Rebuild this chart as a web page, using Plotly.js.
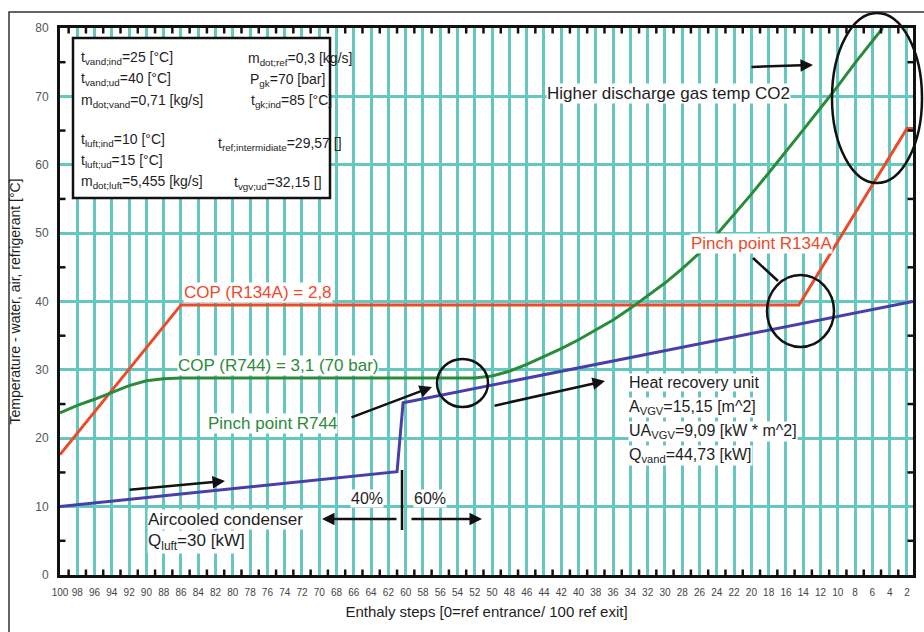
<!DOCTYPE html>
<html><head><meta charset="utf-8">
<script src="https://cdn.plot.ly/plotly-3.0.1.min.js"></script>
<style>html,body{margin:0;padding:0;background:#fff}#chart{width:924px;height:632px}</style>
</head><body><div id="chart"></div>
<script>
// ---- data ----
const xTickVals = [100,98,96,94,92,90,88,86,84,82,80,78,76,74,72,70,68,66,64,62,60,58,56,54,52,50,48,46,44,42,40,38,36,34,32,30,28,26,24,22,20,18,16,14,12,10,8,6,4,2];
const xMarkVals = [99,97,95,93,91,89,87,85,83,81,79,77,75,73,71,69,67,65,63,61,59,57,55,53,51,49,47,45,43,41,39,37,35,33,31,29,27,25,23,21,19,17,15,13,11,9,7,5,3];
const yTickVals = [0,10,20,30,40,50,60,70,80];
const yMarkVals = [5,15,25,35,45,55,65,75];

const r134aX = [100, 86, 14.5, 2, 1.3];
const r134aY = [17.6, 39.5, 39.5, 65.3, 65.3];

const r744X = [100, 98, 96, 94, 92, 90, 88, 86, 52, 50, 48, 46, 44, 42, 40, 38, 36, 34, 32, 30, 28, 26, 24, 22, 20, 18, 16, 14, 12, 10, 8, 6, 4.8];
const r744Y = [23.7, 24.8, 25.7, 26.7, 27.7, 28.4, 28.7, 28.8, 28.8, 29.1, 29.8, 30.8, 31.9, 33.1, 34.4, 35.8, 37.3, 39.0, 40.8, 42.7, 44.8, 47.1, 49.8, 52.7, 55.7, 58.8, 61.9, 65.1, 68.3, 71.5, 74.9, 78.1, 80];

const sinkX = [100, 61, 60.3, 1.3];
const sinkY = [10, 15.1, 25.2, 40];

// ---- layout helpers (pixel -> paper) ----
const L = 60, T = 28, W = 853, H = 547;
const px = v => (v - L) / W;
const py = v => (T + H - v) / H;

const TEAL = 'rgb(100,200,190)';
const RED = '#ec4a2a';
const GREEN = '#2b8b3b';
const BLUE = '#4a3eab';
const FONT = 'Liberation Sans, Arial, sans-serif';
const INK = '#1e1e1e';
const X_RANGE = [100, 1.3];
const Y_RANGE = [0, 80];

const traces = [
  {x: r134aX, y: r134aY, mode: 'lines', line: {color: RED, width: 3}, name: 'R134A'},
  {x: r744X, y: r744Y, mode: 'lines', line: {color: GREEN, width: 3}, name: 'R744'},
  {x: sinkX, y: sinkY, mode: 'lines', line: {color: BLUE, width: 3}, name: 'water/air'}
];

function txt(text, x, y, color, size, anchor, bg) {
  return {text: text, xref: 'paper', yref: 'paper', x: px(x), y: py(y), showarrow: false,
    xanchor: anchor || 'left', yanchor: 'middle', font: {family: FONT, size: size || 17, color: color || INK},
    bgcolor: bg === false ? 'rgba(0,0,0,0)' : '#fff', borderpad: 0};
}
function arrow(tx, ty, hx, hy) {
  return {text: '', xref: 'paper', yref: 'paper', x: px(hx), y: py(hy), ax: tx - hx, ay: ty - hy,
    showarrow: true, arrowhead: 2, arrowsize: 1, arrowwidth: 2.5, arrowcolor: '#111', standoff: 0, startstandoff: 0};
}

const boxFont = 14;
const annotations = [
  txt('t<sub>vand;ind</sub>=25 [°C]', 80, 58, INK, boxFont, 'left', false),
  txt('t<sub>vand;ud</sub>=40 [°C]', 80, 79, INK, boxFont, 'left', false),
  txt('m<sub>dot;vand</sub>=0,71 [kg/s]', 80, 101, INK, boxFont, 'left', false),
  txt('t<sub>luft;ind</sub>=10 [°C]', 80, 140, INK, boxFont, 'left', false),
  txt('t<sub>luft;ud</sub>=15 [°C]', 80, 161, INK, boxFont, 'left', false),
  txt('m<sub>dot;luft</sub>=5,455 [kg/s]', 80, 182, INK, boxFont, 'left', false),
  txt('m<sub>dot;ref</sub>=0,3 [kg/s]', 247, 59, INK, boxFont, 'left', false),
  txt('P<sub>gk</sub>=70 [bar]', 249, 80, INK, boxFont, 'left', false),
  txt('t<sub>gk;ind</sub>=85 [°C]', 250, 101, INK, boxFont, 'left', false),
  txt('t<sub>ref;intermidiate</sub>=29,57 []', 217, 144, INK, boxFont, 'left', false),
  txt('t<sub>vgv;ud</sub>=32,15 []', 233, 183, INK, boxFont, 'left', false),

  txt('Higher discharge gas temp CO2', 668, 94, INK, 17, 'center'),
  txt('Pinch point R134A', 761, 243, RED, 17, 'center'),
  txt('COP (R134A) = 2,8', 258, 292, RED, 17, 'center'),
  txt('COP (R744) = 3,1 (70 bar)', 278, 366, GREEN, 17, 'center'),
  txt('Pinch point R744', 272, 423, GREEN, 17, 'center'),
  txt('Heat recovery unit', 628, 382, INK, 16, 'left'),
  txt('A<sub>VGV</sub>=15,15 [m^2]', 628, 407, INK, 16, 'left'),
  txt('UA<sub>VGV</sub>=9,09 [kW * m^2]', 628, 431, INK, 16, 'left'),
  txt('Q<sub>vand</sub>=44,73 [kW]', 628, 455, INK, 16, 'left'),
  txt('40%', 367, 498, INK, 16, 'center'),
  txt('60%', 430, 498, INK, 16, 'center'),
  txt('Aircooled condenser', 147, 519, INK, 17, 'left'),
  txt('Q<sub>luft</sub>=30 [kW]', 147, 542, INK, 17, 'left'),

  arrow(750, 67, 813, 65),
  arrow(350, 418, 432, 387),
  arrow(493, 406, 605, 381),
  arrow(128, 490, 225, 481),
  arrow(398, 519, 322, 519),
  arrow(410, 519, 482, 519)
];

// small black tick marks on all four sides, placed through the axis scales
const TK = 5.5;
const tickShapes = [];
xMarkVals.forEach(v => {
  tickShapes.push({type: 'line', xref: 'x', yref: 'paper', x0: v, x1: v, y0: 0, y1: TK / H, line: {color: '#111', width: 2.5}, layer: 'above'});
  tickShapes.push({type: 'line', xref: 'x', yref: 'paper', x0: v, x1: v, y0: 1, y1: 1 - TK / H, line: {color: '#111', width: 2.5}, layer: 'above'});
});
yMarkVals.forEach(v => {
  tickShapes.push({type: 'line', xref: 'paper', yref: 'y', x0: 0, x1: TK / W, y0: v, y1: v, line: {color: '#111', width: 2.5}, layer: 'above'});
  tickShapes.push({type: 'line', xref: 'paper', yref: 'y', x0: 1, x1: 1 - TK / W, y0: v, y1: v, line: {color: '#111', width: 2.5}, layer: 'above'});
});

const shapes = tickShapes.concat([
  {type: 'rect', xref: 'paper', yref: 'paper', x0: px(9), x1: px(960), y0: py(680), y1: py(12), line: {color: '#333', width: 1.5}, layer: 'above'},
  {type: 'rect', xref: 'paper', yref: 'paper', x0: px(73), x1: px(330), y0: py(198), y1: py(38), fillcolor: '#fff', line: {color: '#111', width: 2.5}, layer: 'above'},
  {type: 'circle', xref: 'paper', yref: 'paper', x0: px(832), x1: px(922), y0: py(183), y1: py(13), line: {color: '#111', width: 2.5}, layer: 'above'},
  {type: 'circle', xref: 'paper', yref: 'paper', x0: px(767), x1: px(834), y0: py(347), y1: py(275), line: {color: '#111', width: 2.5}, layer: 'above'},
  {type: 'circle', xref: 'paper', yref: 'paper', x0: px(437), x1: px(488), y0: py(407), y1: py(359), line: {color: '#111', width: 2.5}, layer: 'above'},
  {type: 'line', xref: 'paper', yref: 'paper', x0: px(753), x1: px(778), y0: py(258), y1: py(281), line: {color: '#111', width: 2.5}, layer: 'above'},
  {type: 'line', xref: 'paper', yref: 'paper', x0: px(402), x1: px(402), y0: py(470), y1: py(530), line: {color: '#111', width: 2.5}, layer: 'above'}
]);

const layout = {
  width: 924, height: 632,
  margin: {l: L, r: 924 - L - W, t: T, b: 632 - T - H, pad: 0},
  paper_bgcolor: '#fff', plot_bgcolor: '#fff',
  showlegend: false,
  font: {family: FONT, color: '#333'},
  xaxis: {
    range: X_RANGE, tickmode: 'array', tickvals: xTickVals, ticktext: xTickVals.map(String),
    showgrid: true, gridcolor: TEAL, gridwidth: 3, zeroline: false,
    showline: true, linecolor: '#111', linewidth: 3, mirror: true,
    ticks: '', ticklabelstandoff: 6,
    tickfont: {family: FONT, size: 10, color: '#444'},
    title: {text: 'Enthaly steps [0=ref entrance/ 100 ref exit]', font: {family: FONT, size: 15, color: INK}, standoff: 10}
  },
  yaxis: {
    range: Y_RANGE, tickmode: 'array', tickvals: yTickVals,
    showgrid: true, gridcolor: TEAL, gridwidth: 3, zeroline: false,
    showline: true, linecolor: '#111', linewidth: 3, mirror: true,
    ticks: '', ticklabelstandoff: 6,
    tickfont: {family: FONT, size: 12, color: '#555'},
    title: {text: 'Temperature - water, air, refrigerant [°C]', font: {family: FONT, size: 14, color: INK}, standoff: 12}
  },
  annotations: annotations,
  shapes: shapes
};

Plotly.newPlot('chart', traces, layout, {displayModeBar: false, staticPlot: true});
</script>
</body></html>
